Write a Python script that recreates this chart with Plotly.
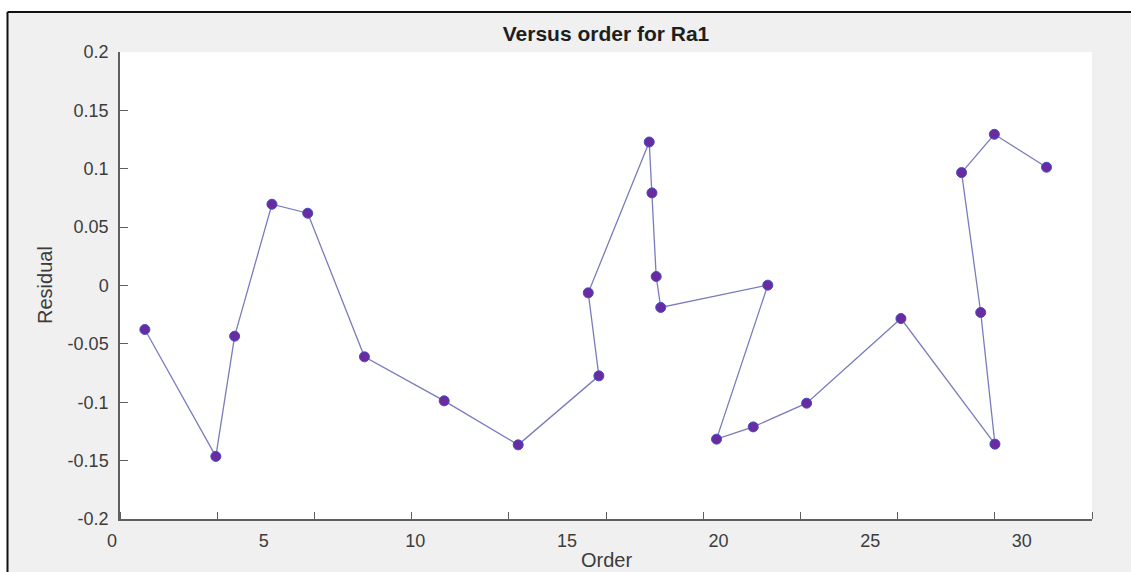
import plotly.graph_objects as go

order = [0.82, 3.16, 3.78, 5.01, 6.19, 8.06, 10.69, 13.13, 15.79, 15.44,
         17.45, 17.54, 17.68, 17.83, 21.36, 19.67, 20.88, 22.64, 25.75,
         28.85, 28.38, 27.75, 28.83, 30.55]
residual = [-0.0377, -0.1464, -0.0434, 0.0696, 0.0619, -0.0611, -0.0988,
            -0.1365, -0.0774, -0.0063, 0.1229, 0.0793, 0.0077, -0.0188,
            0.0003, -0.1316, -0.1211, -0.1008, -0.0283, -0.1359, -0.0231,
            0.0967, 0.1295, 0.1013]

x_ticks = [0, 5, 10, 15, 20, 25, 30]
x_tick_labels = ["0", "5", "10", "15", "20", "25", "30"]
x_tick_marks = [3.205 * k for k in range(11)]
y_ticks = [-0.2, -0.15, -0.1, -0.05, 0, 0.05, 0.1, 0.15, 0.2]
y_tick_labels = ["-0.2", "-0.15", "-0.1", "-0.05", "0", "0.05", "0.1", "0.15", "0.2"]

FONT = "Liberation Sans, Arial, sans-serif"
AX = "#5f5f5f"
TXT = "#3c3c3c"

fig = go.Figure()
fig.add_trace(go.Scatter(
    x=order, y=residual, mode="lines+markers",
    line=dict(color="#7b7bbd", width=1.3),
    marker=dict(size=10, color="#6a2aa0", line=dict(color="#3d4fc8", width=1)),
    showlegend=False,
))

fig.update_layout(
    width=1131, height=572,
    margin=dict(l=120, r=39, t=52, b=53),
    paper_bgcolor="#f0f0f0",
    plot_bgcolor="white",
    font=dict(family=FONT, color=TXT),
    title=dict(text="<b>Versus order for Ra1</b>", x=0.5, xref="paper",
               y=1 - 34 / 572, yref="container", yanchor="middle",
               font=dict(size=21, color="#1e1e1e", family=FONT)),
    xaxis=dict(range=[0, 32.05], tickmode="array", tickvals=x_ticks,
               ticktext=x_tick_labels, ticks="", showgrid=False, zeroline=False,
               showline=True, linecolor=AX, linewidth=1.5,
               tickfont=dict(size=18, color=TXT),
               ticklabelshift=-8, ticklabelstandoff=5,
               minor=dict(tickmode="array", tickvals=x_tick_marks,
                          ticks="inside", ticklen=7, tickcolor=AX, tickwidth=1.3,
                          showgrid=False)),
    yaxis=dict(range=[-0.2, 0.2], tickmode="array", tickvals=y_ticks,
               ticktext=y_tick_labels, ticks="inside", ticklen=8,
               tickcolor=AX, tickwidth=1.3, showgrid=False, zeroline=False,
               showline=True, linecolor=AX, linewidth=1.5,
               tickfont=dict(size=18, color=TXT), ticklabelstandoff=6),
)

# Y axis title and X axis title as annotations
fig.add_annotation(text="Residual", textangle=-90, xref="paper", yref="paper",
                   x=(45 - 120) / 972, y=(519 - 285) / 467, showarrow=False,
                   xanchor="center", yanchor="middle",
                   font=dict(size=20, color=TXT, family=FONT))
fig.add_annotation(text="Order", xref="paper", yref="paper",
                   x=0.5, y=(519 - 560) / 467, showarrow=False,
                   xanchor="center", yanchor="middle",
                   font=dict(size=20, color=TXT, family=FONT))

# white strips outside the black frame, and the frame lines
def px_x(p):
    return (p - 120) / 972

def px_y(p):
    return (519 - p) / 467

fig.add_shape(type="rect", xref="paper", yref="paper", x0=px_x(-5), x1=px_x(1140),
              y0=px_y(12), y1=px_y(-5), fillcolor="white", line_width=0, layer="below")
fig.add_shape(type="rect", xref="paper", yref="paper", x0=px_x(-5), x1=px_x(7.5),
              y0=px_y(580), y1=px_y(12), fillcolor="white", line_width=0, layer="below")
fig.add_shape(type="line", xref="paper", yref="paper", x0=px_x(7.5), x1=px_x(1140),
              y0=px_y(12), y1=px_y(12), line=dict(color="#111111", width=2))
fig.add_shape(type="line", xref="paper", yref="paper", x0=px_x(7.5), x1=px_x(7.5),
              y0=px_y(12), y1=px_y(580), line=dict(color="#111111", width=2))

fig.write_html("out.html", config={"displayModeBar": False},
               post_script="document.body.style.margin='0px';document.body.style.overflow='hidden';")
